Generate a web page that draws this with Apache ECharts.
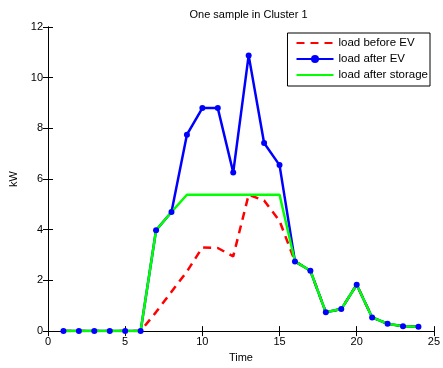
<!DOCTYPE html>
<html>
<head>
<meta charset="utf-8">
<script src="https://cdn.jsdelivr.net/npm/echarts@6/dist/echarts.min.js"></script>
<style>html,body{margin:0;padding:0;background:#fff}#c{width:443px;height:368px}</style>
</head>
<body>
<div id="c"></div>
<script>
const hours = [1,2,3,4,5,6,7,8,9,10,11,12,13,14,15,16,17,18,19,20,21,22,23,24];
const loadBeforeEV = [0,0,0,0,0,0,0.75,1.55,2.35,3.3,3.28,2.95,5.38,5.15,4.35,2.75,2.38,0.74,0.87,1.83,0.54,0.29,0.19,0.17];
const loadAfterEV = [0,0,0,0,0,0,3.98,4.7,7.75,8.8,8.8,6.26,10.88,7.42,6.55,2.75,2.38,0.74,0.87,1.83,0.54,0.29,0.19,0.17];
const loadAfterStorage = [0,0,0,0,0,0,3.98,4.7,5.38,5.38,5.38,5.38,5.38,5.38,5.38,2.75,2.38,0.74,0.87,1.83,0.54,0.29,0.19,0.17];
const xTicks = [0,5,10,15,20,25];
const yTicks = [0,2,4,6,8,10,12];

const pair = (ys) => hours.map((h, i) => [h, ys[i]]);
const font = 'Liberation Sans, Arial, sans-serif';
const chart = echarts.init(document.getElementById('c'), null, {renderer: 'canvas'});
const baseAxis = {
  type: 'value',
  axisLine: {show: true, lineStyle: {color: '#000', width: 1}},
  axisTick: {show: true, inside: true, length: 5, lineStyle: {color: '#000'}},
  splitLine: {show: false},
  axisLabel: {color: '#000', fontSize: 11, fontFamily: font}
};
chart.setOption({
  animation: false,
  backgroundColor: '#fff',
  title: {
    text: 'One sample in Cluster 1', left: 243.5, textAlign: 'center', top: 4,
    textStyle: {fontSize: 11, fontWeight: 'normal', color: '#000', fontFamily: font}
  },
  grid: {left: 48, right: 4, top: 27, bottom: 33},
  legend: {
    orient: 'vertical', right: 13, top: 33,
    padding: [4, 2, 5, 8],
    borderColor: '#000', borderWidth: 1, backgroundColor: '#fff',
    itemWidth: 37, itemHeight: 10, itemGap: 4,
    textStyle: {fontSize: 11.5, color: '#000', fontFamily: font},
    data: [
      {name: 'load before EV', itemStyle: {opacity: 0}},
      {name: 'load after EV'},
      {name: 'load after storage', itemStyle: {opacity: 0}}
    ]
  },
  xAxis: [
    Object.assign({}, baseAxis, {
      min: 0, max: 25, interval: 5, position: 'bottom',
      axisLabel: Object.assign({}, baseAxis.axisLabel, {margin: 5, customValues: xTicks}),
      name: 'Time', nameLocation: 'middle', nameGap: 19,
      nameTextStyle: {fontSize: 11, color: '#000', fontFamily: font}
    }),
    Object.assign({}, baseAxis, {
      min: 0, max: 25, interval: 5, position: 'top', axisLabel: {show: false}
    })
  ],
  yAxis: [
    Object.assign({}, baseAxis, {
      min: 0, max: 12, interval: 2, position: 'left',
      axisLabel: Object.assign({}, baseAxis.axisLabel, {margin: 5}),
      name: 'kW', nameLocation: 'middle', nameGap: 24,
      nameTextStyle: {fontSize: 11, color: '#000', fontFamily: font}
    }),
    Object.assign({}, baseAxis, {
      min: 0, max: 12, interval: 2, position: 'right', axisLabel: {show: false}
    })
  ],
  series: [
    {
      name: 'load before EV', type: 'line', data: pair(loadBeforeEV),
      showSymbol: false, symbol: 'none', color: '#ff0000',
      lineStyle: {color: '#ff0000', width: 2.5, type: [8, 6]}
    },
    {
      name: 'load after EV', type: 'line', data: pair(loadAfterEV),
      symbol: 'circle', symbolSize: 6, color: '#0000ff',
      itemStyle: {color: '#0000ff'},
      lineStyle: {color: '#0000ff', width: 2.5}
    },
    {
      name: 'load after storage', type: 'line', data: pair(loadAfterStorage),
      symbol: 'none', color: '#00ff00',
      lineStyle: {color: '#00ff00', width: 2.5}
    }
  ]
});
</script>
</body>
</html>
